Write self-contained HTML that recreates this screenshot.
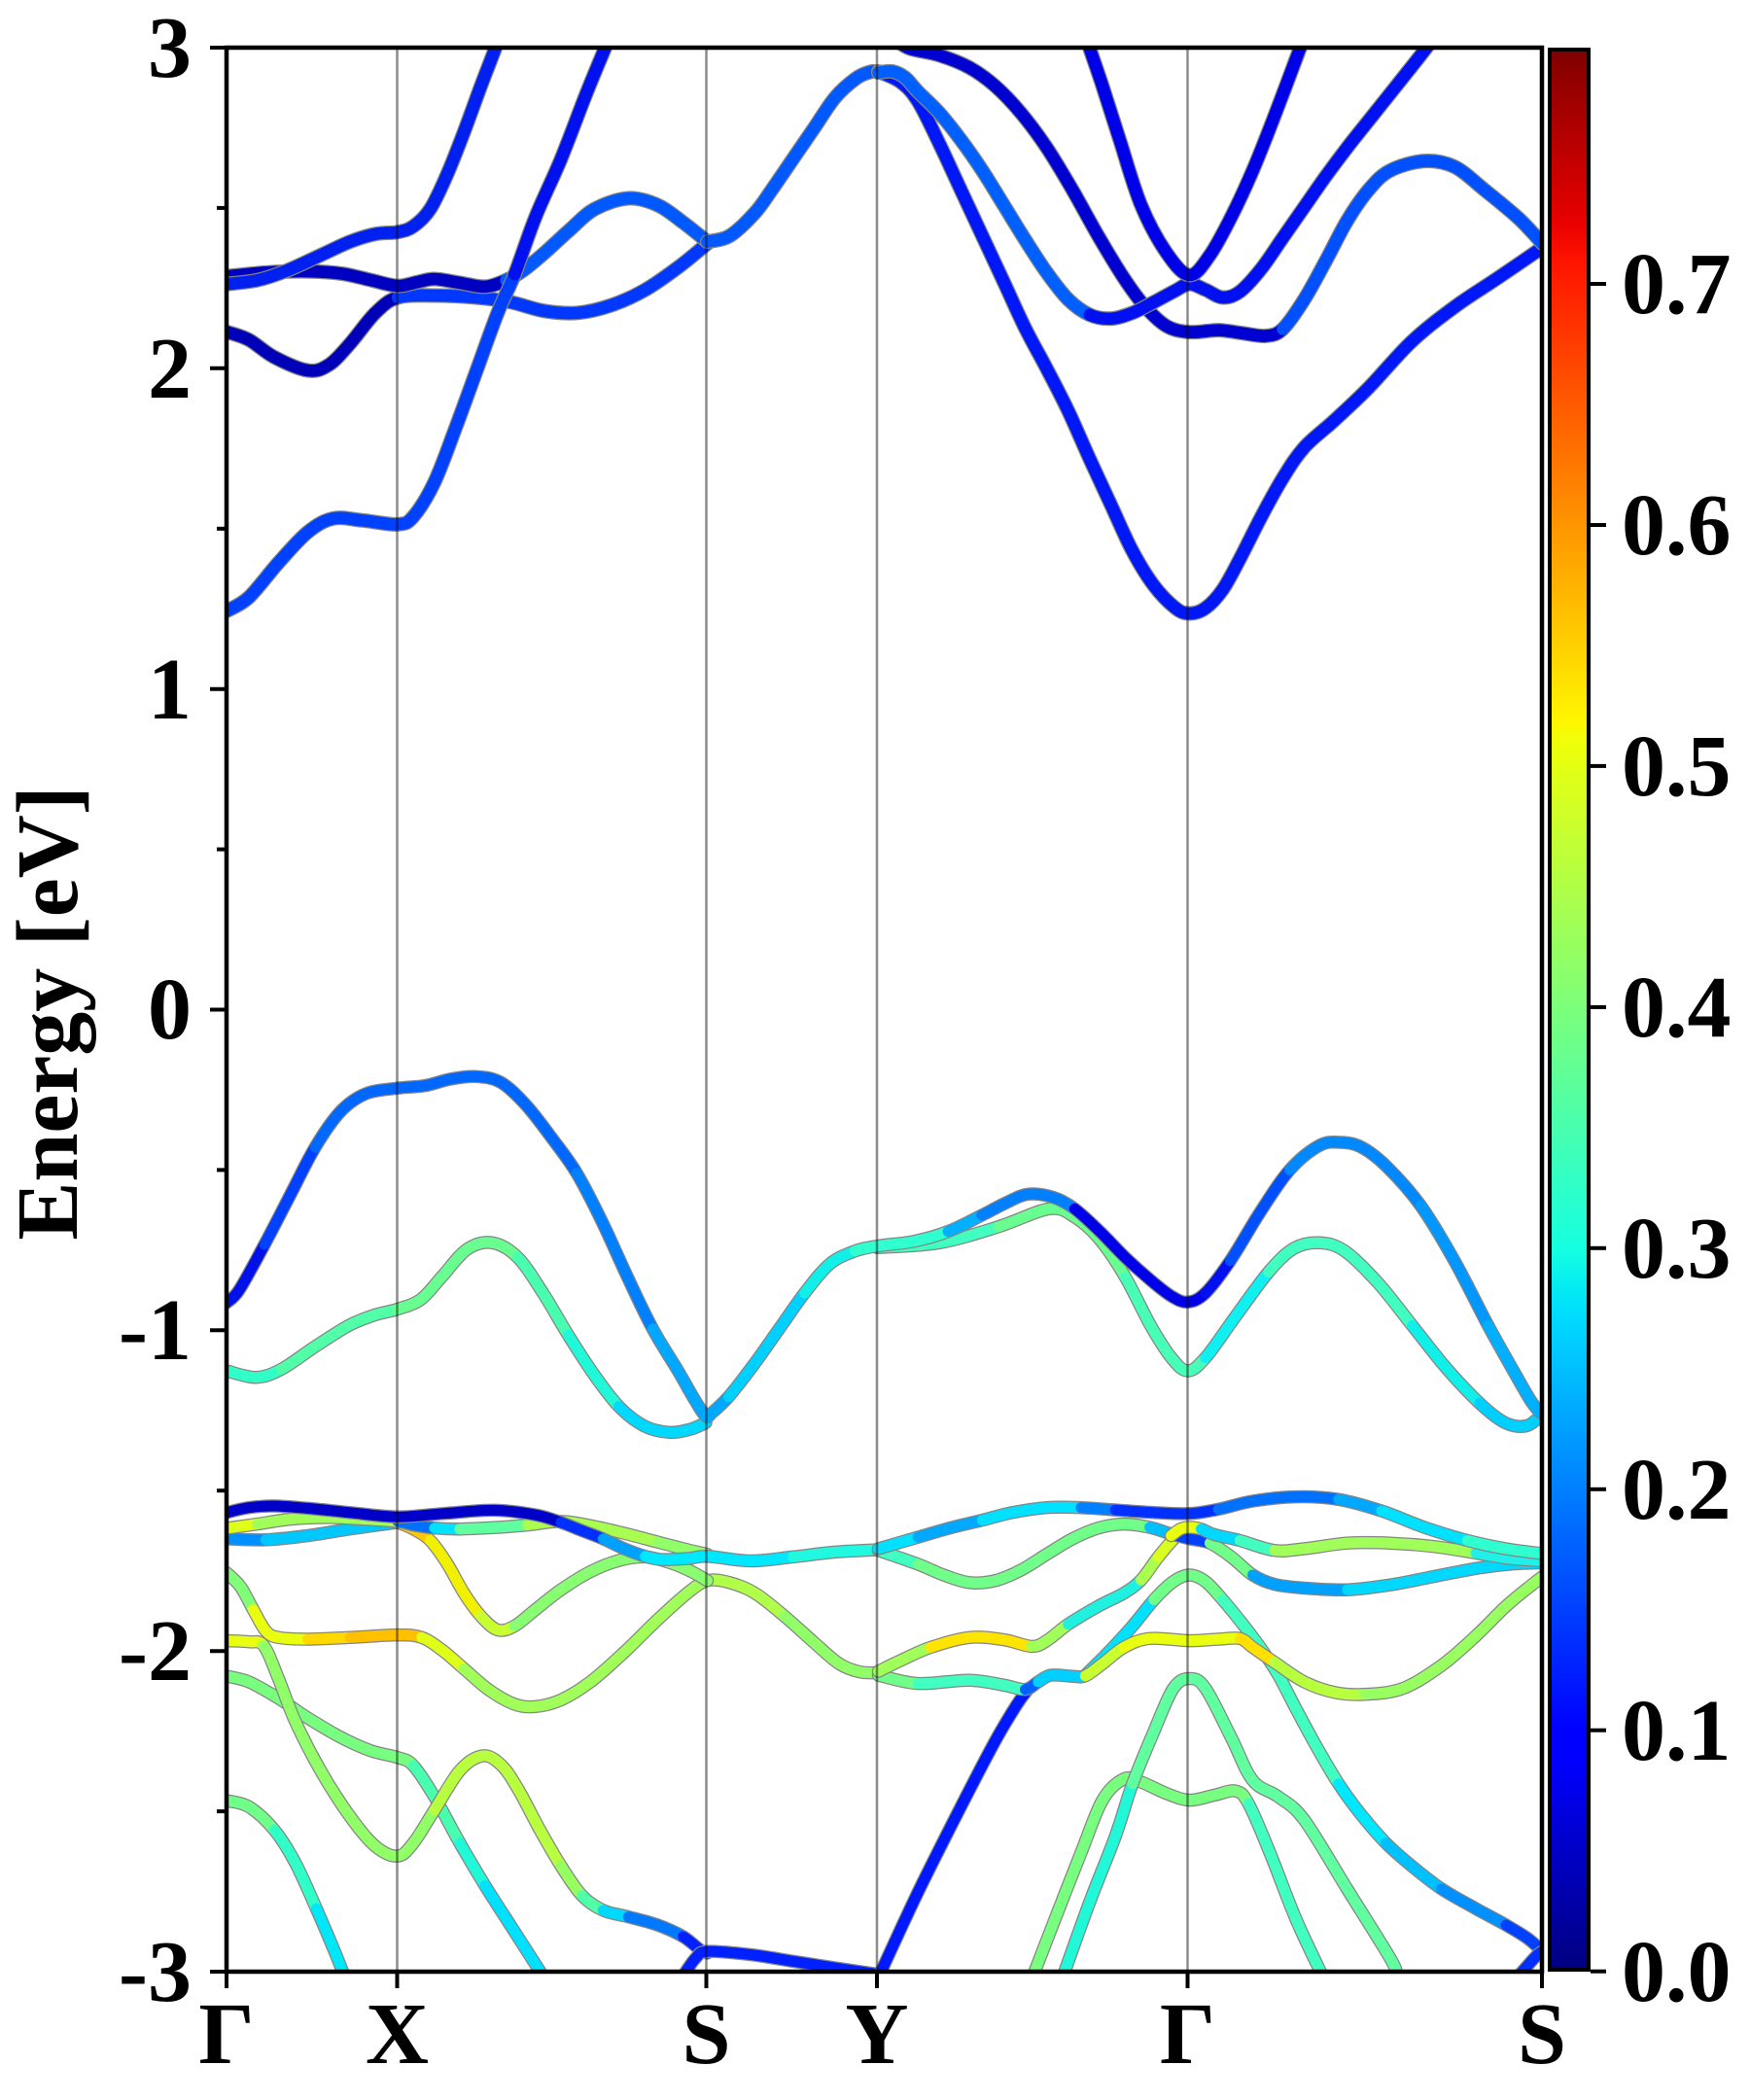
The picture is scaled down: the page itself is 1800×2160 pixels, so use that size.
<!DOCTYPE html>
<html><head><meta charset="utf-8"><style>
html,body{margin:0;padding:0;background:#fff;}
svg{display:block;}
.b polyline,.b path{fill:none;stroke-linejoin:round;stroke-linecap:round;stroke-width:11}
.b polyline.o,.b path.o{stroke:#858585;stroke-width:13.5}
.t polyline,.t path{stroke-width:12.5}
.t polyline.o,.t path.o{stroke-width:15}
.lbl{font-family:"Liberation Serif","DejaVu Serif",serif;font-weight:bold;font-size:90px;fill:#000}
</style></head><body>
<svg width="1800" height="2160" viewBox="0 0 1800 2160" xmlns="http://www.w3.org/2000/svg">
<defs>
<clipPath id="ax"><rect x="233" y="49" width="1353" height="1979"/></clipPath>
<linearGradient id="jet" x1="0" y1="1" x2="0" y2="0">
<stop offset="0" stop-color="#000080"/><stop offset="0.11" stop-color="#0000ff"/><stop offset="0.125" stop-color="#0000ff"/>
<stop offset="0.34" stop-color="#00dbff"/><stop offset="0.35" stop-color="#00e6f7"/><stop offset="0.375" stop-color="#14ffe2"/>
<stop offset="0.5" stop-color="#7bff7b"/><stop offset="0.64" stop-color="#efff08"/><stop offset="0.65" stop-color="#fff600"/>
<stop offset="0.66" stop-color="#ffec00"/><stop offset="0.89" stop-color="#ff1300"/><stop offset="0.91" stop-color="#e80000"/>
<stop offset="1" stop-color="#800000"/>
</linearGradient>
</defs>
<rect width="1800" height="2160" fill="#fff"/>

<g clip-path="url(#ax)">
<!-- TOP bands -->
<g class="b t">
<polyline class="o" points="234,341.6 256,349.5 282,367.3 316.7,381.1 338.4,375.2 360.1,353.4 386.1,321.8 409.1,306 446.9,304 490.2,306 524.9,310.7 559.6,319.8 594.3,321.8 629,313.9 663.7,298.1 698.4,274.3 727.5,250.6"/>
<polyline stroke="#0000b8" points="234,341.6 256,349.5 282,367.3 316.7,381.1 338.4,375.2 360.1,353.4 386.1,321.8 409.1,306"/>
<polyline stroke="#0038ff" points="409.1,306 446.9,304 490.2,306 524.9,310.7 559.6,319.8 594.3,321.8 629,313.9 663.7,298.1 698.4,274.3 727.5,250.6"/>

<polyline class="o" points="234,284.2 273.4,280.3 316.7,279.1 351.4,281.4 381.8,288.2 409.1,294.1 429.5,290.1 446.9,287 472.9,290.9 498.9,294.9 520.6,288.2 537.9,278.3 559.6,260.5 585.6,236.8 611.7,215 646.3,204 676.7,211.1 702.7,228.9 727.5,248.6"/>
<polyline stroke="#0000c0" points="234,284.2 273.4,280.3 316.7,279.1 351.4,281.4 381.8,288.2 409.1,294.1 429.5,290.1 446.9,287 472.9,290.9 498.9,294.9 520.6,288.2"/>
<polyline stroke="#0058ff" points="520.6,288.2 537.9,278.3 559.6,260.5 585.6,236.8 611.7,215 646.3,204 676.7,211.1 702.7,228.9 727.5,248.6"/>

<polyline class="o" points="234,292.1 264.7,288.2 295.1,278.3 329.8,262.5 360.1,248.6 386.1,240.7 409.1,238.7 425.2,232.8 442.5,215 459.9,179.4 477.2,135.9 494.6,88.5 509.7,49 514,35"/>
<polyline stroke="#0020f0" points="234,292.1 264.7,288.2 295.1,278.3 329.8,262.5 360.1,248.6 386.1,240.7 409.1,238.7 425.2,232.8 442.5,215 459.9,179.4 477.2,135.9 494.6,88.5 509.7,49 514,35"/>

<polyline class="o" points="234,628 256,614.4 286.4,578.8 316.7,547.2 342.8,533.3 373.1,535.3 409.1,539.3 425.2,531.3 446.9,495.8 468.5,440.4 490.2,381.1 511.9,321.8 529.3,282.2 550.9,222.9 577,163.6 603,96.4 622.5,49 628,35"/>
<polyline stroke="#0040ff" points="234,628 256,614.4 286.4,578.8 316.7,547.2 342.8,533.3 373.1,535.3 409.1,539.3 425.2,531.3 446.9,495.8 468.5,440.4 490.2,381.1 511.9,321.8 529.3,282.2"/>
<polyline stroke="#0010ee" points="529.3,282.2 550.9,222.9 577,163.6 603,96.4 622.5,49 628,35"/>

<polyline class="o" points="727.5,248.6 750.4,242.7 776.4,219 793.8,195.3 815.5,163.6 837.2,132 858.9,100.4 880.6,80.6 895,74 903.5,74"/>
<polyline stroke="#0058ff" points="727.5,248.6 750.4,242.7 776.4,219 793.8,195.3 815.5,163.6 837.2,132 858.9,100.4 880.6,80.6 895,74 903.5,74"/>

<polyline class="o" points="903.5,73.5 926.5,84.5 944.2,104.3 966.2,147.8 988.3,195.3 1010.4,242.7 1032.5,290.1 1054.5,337.6 1076.6,379.1 1098.7,422.6 1120.8,472 1142.8,519.5 1164.9,566.9 1187,602.5 1209.1,625.4 1223.6,631 1240,625.4 1257.6,606.5 1275.3,574.8 1297.4,531.3 1319.4,491.8 1341.5,460.2 1372.4,432.5 1407.7,398.9 1451.9,351.4 1496,315.8 1540.2,286.2 1586.5,254.6"/>
<polyline stroke="#0018f8" points="903.5,73.5 926.5,84.5 944.2,104.3 966.2,147.8 988.3,195.3 1010.4,242.7 1032.5,290.1 1054.5,337.6 1076.6,379.1 1098.7,422.6 1120.8,472 1142.8,519.5 1164.9,566.9 1187,602.5 1209.1,625.4 1223.6,631 1240,625.4 1257.6,606.5 1275.3,574.8 1297.4,531.3 1319.4,491.8 1341.5,460.2 1372.4,432.5 1407.7,398.9 1451.9,351.4 1496,315.8 1540.2,286.2 1586.5,254.6"/>

<polyline class="o" points="920,40 935.3,49.7 966.2,56.9 997.1,69.5 1023.6,88.5 1050.1,116.2 1076.6,151.8 1103.1,195.3 1129.6,242.7 1156.1,286.2 1178.1,315.8 1200.2,335.6 1223.6,341.6 1253.2,339.6 1275.3,342.3 1301.8,345.5 1319.4,338.4 1341.5,308 1363.6,268.4 1385.7,226.9 1407.7,195.3 1429.8,175.5 1465.1,165.6 1496,171.5 1526.9,195.3 1562.3,224.9 1586.5,250.6"/>
<polyline stroke="#0000d0" points="920,40 935.3,49.7 966.2,56.9 997.1,69.5 1023.6,88.5 1050.1,116.2 1076.6,151.8 1103.1,195.3 1129.6,242.7 1156.1,286.2 1178.1,315.8 1200.2,335.6 1223.6,341.6 1253.2,339.6 1275.3,342.3 1301.8,345.5 1319.4,338.4"/>
<polyline stroke="#0050ff" points="1319.4,338.4 1341.5,308 1363.6,268.4 1385.7,226.9 1407.7,195.3 1429.8,175.5 1465.1,165.6 1496,171.5 1526.9,195.3 1562.3,224.9 1586.5,250.6"/>

<polyline class="o" points="903.5,74.7 917.7,73.5 930.9,79.8 944.2,94.4 966.2,116.2 988.3,143.9 1010.4,175.5 1032.5,211.1 1054.5,246.7 1076.6,280.3 1098.7,308 1120.8,323.8 1142.8,327.7 1164.9,321.8 1187,310.7 1209.1,298.8 1223.6,292.1 1240,298.1 1257.6,306 1275.3,300 1297.4,276.3 1319.4,244.7 1341.5,213 1363.6,181.4 1385.7,151.8 1407.7,124.1 1429.8,96.4 1451.9,68.7 1467.3,49 1475,38"/>
<polyline stroke="#0060ff" points="903.5,74.7 917.7,73.5 930.9,79.8 944.2,94.4 966.2,116.2 988.3,143.9 1010.4,175.5 1032.5,211.1 1054.5,246.7 1076.6,280.3 1098.7,308 1120.8,323.8"/>
<polyline stroke="#0010f0" points="1120.8,323.8 1142.8,327.7 1164.9,321.8 1187,310.7 1209.1,298.8 1223.6,292.1 1240,298.1 1257.6,306 1275.3,300 1297.4,276.3 1319.4,244.7 1341.5,213 1363.6,181.4 1385.7,151.8 1407.7,124.1 1429.8,96.4 1451.9,68.7 1467.3,49 1475,38"/>

<polyline class="o" points="1118,40 1120.8,49.7 1134,88.5 1151.7,143.9 1173.7,211.1 1200.2,260.5 1223.6,283 1244.4,262.5 1266.5,222.9 1288.5,175.5 1310.6,120.1 1337.1,49.7 1341,38"/>
<polyline stroke="#0000e8" points="1118,40 1120.8,49.7 1134,88.5 1151.7,143.9 1173.7,211.1 1200.2,260.5 1223.6,283 1244.4,262.5 1266.5,222.9 1288.5,175.5 1310.6,120.1 1337.1,49.7 1341,38"/>
</g>

<!-- MIDDLE bands -->
<g class="b">
<polyline class="o" points="233,1410 263.4,1416.7 289.5,1408.3 324.2,1385 358.9,1363.3 384.9,1352.7 408.4,1346.7 432.7,1336.7 454.4,1313.3 480.4,1285 506.4,1278.3 532.5,1293.3 558.5,1330 584.5,1373.3 610.6,1413.3 636.6,1446.7 662.6,1466.7 688.7,1473.3 710.4,1470 726,1463.3"/>
<polyline stroke="#30ffc8" points="233,1410 263.4,1416.7 289.5,1408.3"/>
<polyline stroke="#50ffa8" points="289.5,1408.3 324.2,1385 358.9,1363.3 384.9,1352.7 408.4,1346.7"/>
<polyline stroke="#68ff90" points="408.4,1346.7 432.7,1336.7 454.4,1313.3 480.4,1285 506.4,1278.3 532.5,1293.3"/>
<polyline stroke="#48ffb0" points="532.5,1293.3 558.5,1330 584.5,1373.3"/>
<polyline stroke="#20f8d8" points="584.5,1373.3 610.6,1413.3 636.6,1446.7"/>
<polyline stroke="#00d8ff" points="636.6,1446.7 662.6,1466.7 688.7,1473.3 710.4,1470 726,1463.3"/>

<polyline class="o" points="902.2,1283.3 966.4,1278.3 1027.2,1261.7 1079.3,1243.3 1105.3,1251.7 1131.3,1275 1157.3,1313.3 1183.4,1363.3 1205,1396.7 1221.6,1410 1239.8,1396.7 1270.2,1355 1304.9,1308.3 1331,1284 1357,1278.3 1383,1286.7 1417.8,1320 1452.5,1363.3 1487.2,1406.7 1521.9,1443.3 1547.9,1463.3 1569.6,1466.7 1584.3,1456.7"/>
<polyline stroke="#40ffc0" points="902.2,1283.3 966.4,1278.3 1027.2,1261.7"/>
<polyline stroke="#68ff90" points="1027.2,1261.7 1079.3,1243.3 1105.3,1251.7 1131.3,1275 1157.3,1313.3"/>
<polyline stroke="#48ffb8" points="1157.3,1313.3 1183.4,1363.3 1205,1396.7 1221.6,1410 1239.8,1396.7"/>
<polyline stroke="#10f0f0" points="1239.8,1396.7 1270.2,1355 1304.9,1308.3"/>
<polyline stroke="#40ffc0" points="1304.9,1308.3 1331,1284 1357,1278.3 1383,1286.7 1417.8,1320 1452.5,1363.3"/>
<polyline stroke="#10f0e8" points="1452.5,1363.3 1487.2,1406.7 1521.9,1443.3"/>
<polyline stroke="#00d0ff" points="1521.9,1443.3 1547.9,1463.3 1569.6,1466.7 1584.3,1456.7"/>

<polyline class="o" points="233,1340 246.1,1326.7 272.1,1280 298.1,1230 324.2,1180 350.2,1143.3 376.2,1125 408.4,1119.3 437,1116.7 463,1110 489.1,1107.3 515.1,1113.3 541.1,1136.7 567.2,1170 593.2,1206.7 619.3,1256.7 645.3,1313.3 671.3,1366.7 697.4,1410 714.7,1440 726,1456.7 732.1,1453.3 749.4,1436.7 775.5,1403.3 801.5,1366.7 827.6,1330 853.6,1300 879.6,1286.7 902.2,1281.7 940.4,1276.7 975.1,1266.7 1009.8,1250 1035.8,1236.7 1057.5,1228.3 1083.6,1231.7 1105.3,1243.3 1131.3,1266.7 1157.3,1293.3 1183.4,1316.7 1205,1333.3 1221.6,1339.3 1239.8,1330 1265.5,1296.7 1296.2,1246.7 1326.6,1203.3 1357,1178.3 1378.6,1175 1400.4,1180 1426.4,1200 1461.2,1240 1495.9,1296.7 1530.6,1363.3 1556.7,1410 1574,1440 1584.3,1453.3"/>
<polyline stroke="#0010e8" points="233,1340 246.1,1326.7 272.1,1280"/>
<polyline stroke="#0040ff" points="272.1,1280 298.1,1230 324.2,1180"/>
<polyline stroke="#0068ff" points="324.2,1180 350.2,1143.3 376.2,1125 408.4,1119.3 437,1116.7 463,1110 489.1,1107.3 515.1,1113.3 541.1,1136.7 567.2,1170 593.2,1206.7"/>
<polyline stroke="#0080ff" points="593.2,1206.7 619.3,1256.7 645.3,1313.3 671.3,1366.7"/>
<polyline stroke="#00a8ff" points="671.3,1366.7 697.4,1410 714.7,1440 726,1456.7 732.1,1453.3 749.4,1436.7"/>
<polyline stroke="#00d0ff" points="749.4,1436.7 775.5,1403.3 801.5,1366.7 827.6,1330"/>
<polyline stroke="#10f0e8" points="827.6,1330 853.6,1300 879.6,1286.7"/>
<polyline stroke="#30ffd0" points="879.6,1286.7 902.2,1281.7 940.4,1276.7 975.1,1266.7"/>
<polyline stroke="#00b0ff" points="975.1,1266.7 1009.8,1250"/>
<polyline stroke="#0080ff" points="1009.8,1250 1035.8,1236.7 1057.5,1228.3 1083.6,1231.7 1105.3,1243.3"/>
<polyline stroke="#0000e8" points="1105.3,1243.3 1131.3,1266.7 1157.3,1293.3 1183.4,1316.7 1205,1333.3 1221.6,1339.3 1239.8,1330"/>
<polyline stroke="#0010f0" points="1239.8,1330 1265.5,1296.7"/>
<polyline stroke="#0050ff" points="1265.5,1296.7 1296.2,1246.7 1326.6,1203.3"/>
<polyline stroke="#0088ff" points="1326.6,1203.3 1357,1178.3 1378.6,1175 1400.4,1180 1426.4,1200 1461.2,1240"/>
<polyline stroke="#0098ff" points="1461.2,1240 1495.9,1296.7 1530.6,1363.3"/>
<polyline stroke="#00b0ff" points="1530.6,1363.3 1556.7,1410 1574,1440 1584.3,1453.3"/>
</g>

<!-- LOWER bands -->
<g class="b">
<polyline class="o" points="233,1852 256,1858.4 282,1882.1 303.7,1915.9 325.4,1963.2 342.8,2003.8 353.6,2030.8"/>
<polyline stroke="#70ff88" points="233,1852 256,1858.4 282,1882.1"/>
<polyline stroke="#30ffc8" points="282,1882.1 303.7,1915.9 325.4,1963.2"/>
<polyline stroke="#00e8f8" points="325.4,1963.2 342.8,2003.8 353.6,2030.8"/>

<polyline class="o" points="233,1724 256,1729.9 286.4,1746.8 316.7,1767.1 351.4,1787.4 381.8,1800.9 409.1,1807.7 425.2,1816.1 446.9,1848.2 472.9,1895.6 498.9,1939.5 524.9,1980.1 546.6,2013.9 557.4,2030.8"/>
<polyline stroke="#78ff80" points="233,1724 256,1729.9 286.4,1746.8 316.7,1767.1 351.4,1787.4 381.8,1800.9 409.1,1807.7 425.2,1816.1"/>
<polyline stroke="#48ffb0" points="425.2,1816.1 446.9,1848.2 472.9,1895.6"/>
<polyline stroke="#20f8d8" points="472.9,1895.6 498.9,1939.5"/>
<polyline stroke="#00e0ff" points="498.9,1939.5 524.9,1980.1 546.6,2013.9 557.4,2030.8"/>

<polyline class="o" points="233,1687.6 256,1688.7 271.2,1692.7 286.4,1726.5 303.7,1770.5 329.8,1821.2 360.1,1868.5 386.1,1899 409.1,1909.1 425.2,1895.6 446.9,1861.8 472.9,1821.2 496.7,1806 516.2,1816.1 533.6,1841.5 555.3,1882.1 577,1919.2 598.6,1949.7 620.3,1964.9 646.3,1971.6 676.7,1980.1 702.7,1992 720.1,2005.5 727.5,2008.9"/>
<polyline stroke="#e8ff10" points="233,1687.6 256,1688.7 271.2,1692.7"/>
<polyline stroke="#90ff68" points="271.2,1692.7 286.4,1726.5 303.7,1770.5 329.8,1821.2 360.1,1868.5 386.1,1899 409.1,1909.1 425.2,1895.6 446.9,1861.8"/>
<polyline stroke="#b8ff40" points="446.9,1861.8 472.9,1821.2 496.7,1806 516.2,1816.1 533.6,1841.5 555.3,1882.1 577,1919.2"/>
<polyline stroke="#98ff60" points="577,1919.2 598.6,1949.7"/>
<polyline stroke="#50ffa8" points="598.6,1949.7 620.3,1964.9"/>
<polyline stroke="#00d8ff" points="620.3,1964.9 646.3,1971.6"/>
<polyline stroke="#0078ff" points="646.3,1971.6 676.7,1980.1 702.7,1992"/>
<polyline stroke="#0020ff" points="702.7,1992 720.1,2005.5 727.5,2008.9"/>

<polyline class="o" points="233,1617.6 247.3,1631.9 260.4,1655.5 273.4,1677.5 286.4,1684.3 316.7,1686 360.1,1684.3 409.1,1681.6 433.8,1684.3 455.5,1697.8 477.2,1716.4 503.2,1738.4 529.3,1752.9 550.9,1755.3 577,1748.5 607.3,1729.9 642,1699.5 676.7,1665.7 707.1,1638.6 727.5,1625.8 750.4,1627.8 776.4,1638.6 806.8,1662.3 837.2,1689.3 863.2,1711.3 884.9,1719.8 904.4,1720.4"/>
<polyline stroke="#80ff78" points="233,1617.6 247.3,1631.9 260.4,1655.5"/>
<polyline stroke="#e8ff10" points="260.4,1655.5 273.4,1677.5 286.4,1684.3 316.7,1686"/>
<polyline stroke="#ffd800" points="316.7,1686 360.1,1684.3"/>
<polyline stroke="#ffc000" points="360.1,1684.3 409.1,1681.6 433.8,1684.3"/>
<polyline stroke="#e0ff18" points="433.8,1684.3 455.5,1697.8 477.2,1716.4"/>
<polyline stroke="#a0ff58" points="477.2,1716.4 503.2,1738.4 529.3,1752.9 550.9,1755.3 577,1748.5 607.3,1729.9 642,1699.5 676.7,1665.7 707.1,1638.6 727.5,1625.8"/>
<polyline stroke="#b0ff48" points="727.5,1625.8 750.4,1627.8 776.4,1638.6 806.8,1662.3"/>
<polyline stroke="#90ff68" points="806.8,1662.3 837.2,1689.3 863.2,1711.3 884.9,1719.8 904.4,1720.4"/>

<polyline class="o" points="409.1,1565.9 425.2,1572.7 442.5,1584.5 459.9,1608.2 477.2,1638.6 494.6,1662.3 511.9,1676.5 529.3,1672.4 550.9,1655.5 577,1635.2 607.3,1616.6 637.7,1604.8 663.7,1601.4 689.7,1607.5 711.4,1616.6 727.5,1625.8"/>
<polyline stroke="#ffc800" points="409.1,1565.9 425.2,1572.7 442.5,1584.5"/>
<polyline stroke="#f0f000" points="442.5,1584.5 459.9,1608.2 477.2,1638.6 494.6,1662.3"/>
<polyline stroke="#c8ff30" points="494.6,1662.3 511.9,1676.5 529.3,1672.4"/>
<polyline stroke="#88ff70" points="529.3,1672.4 550.9,1655.5 577,1635.2 607.3,1616.6 637.7,1604.8 663.7,1601.4 689.7,1607.5 711.4,1616.6 727.5,1625.8"/>

<polyline class="o" points="233,1582.8 273.4,1583.8 316.7,1579.5 360.1,1572.7 409.1,1565.9"/>
<polyline stroke="#0090ff" points="233,1582.8 273.4,1583.8"/>
<polyline stroke="#00c8ff" points="273.4,1583.8 316.7,1579.5 360.1,1572.7 409.1,1565.9"/>

<polyline class="o" points="233,1572 264.7,1567.6 299.4,1562.5 338.4,1560.9 373.1,1562.5 409.1,1564.9 425.2,1568.6 446.9,1571.7 472.9,1572.7 511.9,1571 542.3,1568.6 577,1564.9 607.3,1569.3 642,1577.1 676.7,1586.2 707.1,1594 727.5,1598.7"/>
<polyline stroke="#e0ff18" points="233,1572 264.7,1567.6"/>
<polyline stroke="#a0ff58" points="264.7,1567.6 299.4,1562.5 338.4,1560.9 373.1,1562.5 409.1,1564.9"/>
<polyline stroke="#0070ff" points="409.1,1564.9 425.2,1568.6 446.9,1571.7"/>
<polyline stroke="#00e0ff" points="446.9,1571.7 472.9,1572.7"/>
<polyline stroke="#60ffa0" points="472.9,1572.7 511.9,1571 542.3,1568.6"/>
<polyline stroke="#a8ff50" points="542.3,1568.6 577,1564.9 607.3,1569.3 642,1577.1 676.7,1586.2"/>
<polyline stroke="#90ff68" points="676.7,1586.2 707.1,1594 727.5,1598.7"/>

<polyline class="o" points="233,1555.8 256,1550.7 282,1549 316.7,1551.4 360.1,1555.8 409.1,1560.2 455.5,1556.8 507.6,1553.4 550.9,1558.2 577,1565.9 598.6,1574.4 620.3,1582.8 642,1593 663.7,1600.8 681,1604.1 707.1,1603.1 727.5,1600.8 772.1,1605.5 815.5,1601.4 858.9,1596.4 904.4,1594"/>
<polyline stroke="#0000c8" points="233,1555.8 256,1550.7 282,1549 316.7,1551.4 360.1,1555.8 409.1,1560.2 455.5,1556.8 507.6,1553.4 550.9,1558.2 577,1565.9"/>
<polyline stroke="#0030ff" points="577,1565.9 598.6,1574.4 620.3,1582.8"/>
<polyline stroke="#00a0ff" points="620.3,1582.8 642,1593 663.7,1600.8"/>
<polyline stroke="#00e8ff" points="663.7,1600.8 681,1604.1 707.1,1603.1 727.5,1600.8 772.1,1605.5 815.5,1601.4"/>
<polyline stroke="#20f8e0" points="815.5,1601.4 858.9,1596.4 904.4,1594"/>

<polyline class="o" points="702.7,2032 715.7,2013.9 727.5,2007.2 772.1,2010.5 815.5,2017.3 858.9,2024.1 904.4,2030.8"/>
<polyline stroke="#0020ff" points="702.7,2032 715.7,2013.9 727.5,2007.2 772.1,2010.5 815.5,2017.3 858.9,2024.1 904.4,2030.8"/>

<polyline class="o" points="904.4,2032 944.2,1946.3 988.3,1858.4 1023.6,1790.8 1045.7,1753.6 1056.7,1738.4"/>
<polyline stroke="#0018ff" points="904.4,2032 944.2,1946.3 988.3,1858.4 1023.6,1790.8 1045.7,1753.6 1056.7,1738.4"/>

<polyline class="o" points="1063.4,2030.1 1085.4,1973.3 1111.9,1905.7 1134,1851.6 1156.1,1829.6 1173.7,1833 1200.2,1844.9 1223.6,1851.6 1248.8,1846.5 1270.9,1842.2 1284.1,1855 1306.2,1905.7 1332.7,1973.3 1359.2,2030.1"/>
<polyline stroke="#78ff80" points="1063.4,2030.1 1085.4,1973.3 1111.9,1905.7 1134,1851.6 1156.1,1829.6 1173.7,1833 1200.2,1844.9 1223.6,1851.6 1248.8,1846.5 1270.9,1842.2 1284.1,1855"/>
<polyline stroke="#40ffc0" points="1284.1,1855 1306.2,1905.7 1332.7,1973.3 1359.2,2030.1"/>

<polyline class="o" points="1094.3,2030.1 1120.8,1956.4 1147.2,1888.8 1164.9,1834.7 1187,1780.6 1206.8,1736.7 1223.6,1726.5 1240,1736.7 1266.5,1787.4 1288.5,1831.3 1315,1848.2 1341.5,1871.9 1385.7,1943 1429.8,2014 1436.4,2030.1"/>
<polyline stroke="#20f8d8" points="1094.3,2030.1 1120.8,1956.4 1147.2,1888.8 1164.9,1834.7"/>
<polyline stroke="#60ffa0" points="1164.9,1834.7 1187,1780.6 1206.8,1736.7 1223.6,1726.5 1240,1736.7 1266.5,1787.4 1288.5,1831.3 1315,1848.2 1341.5,1871.9 1385.7,1943 1429.8,2014 1436.4,2030.1"/>

<polyline class="o" points="1116.3,1723.1 1138.4,1701.2 1164.9,1672.4 1187,1645.4 1206.8,1626.8 1223.6,1620 1240,1626.8 1257.6,1645.4 1279.7,1672.4 1297.4,1696.1 1315,1723.1 1332.7,1757 1354.7,1797.5 1376.8,1834.7 1398.9,1865.1 1425.4,1895.6 1451.9,1919.2 1482.8,1942.9 1518.1,1963.2 1549,1980 1571.1,1993.6 1586.5,2007.2"/>
<polyline stroke="#00e0ff" points="1116.3,1723.1 1138.4,1701.2 1164.9,1672.4 1187,1645.4"/>
<polyline stroke="#70ff88" points="1187,1645.4 1206.8,1626.8 1223.6,1620 1240,1626.8 1257.6,1645.4"/>
<polyline stroke="#40ffc0" points="1257.6,1645.4 1279.7,1672.4 1297.4,1696.1 1315,1723.1 1332.7,1757 1354.7,1797.5 1376.8,1834.7"/>
<polyline stroke="#00e8ff" points="1376.8,1834.7 1398.9,1865.1 1425.4,1895.6"/>
<polyline stroke="#00c0ff" points="1425.4,1895.6 1451.9,1919.2 1482.8,1942.9"/>
<polyline stroke="#0090ff" points="1482.8,1942.9 1518.1,1963.2 1549,1980"/>
<polyline stroke="#0040ff" points="1549,1980 1571.1,1993.6 1586.5,2007.2"/>

<polyline class="o" points="903.5,1723.1 944.2,1731.6 997.1,1728.2 1032.5,1733.3 1054.5,1737.7 1067.8,1729.9 1081,1723.1 1103.1,1724.2 1116.3,1723.8 1134,1711.3 1156.1,1694.4 1182.6,1685.3 1223.6,1687.6 1253.2,1686 1275.3,1685.3 1288.5,1694.4 1310.6,1709.6 1341.5,1729.9 1372.4,1740.7 1403.3,1742.8 1443,1736.7 1482.8,1713 1518.1,1682.6 1549,1652.1 1575.5,1630.2 1586.5,1621.7"/>
<polyline stroke="#70ff88" points="903.5,1723.1 944.2,1731.6"/>
<polyline stroke="#40ffc0" points="944.2,1731.6 997.1,1728.2 1032.5,1733.3 1054.5,1737.7"/>
<polyline stroke="#0060ff" points="1054.5,1737.7 1067.8,1729.9"/>
<polyline stroke="#00d0ff" points="1067.8,1729.9 1081,1723.1 1103.1,1724.2 1116.3,1723.8"/>
<polyline stroke="#c8ff30" points="1116.3,1723.8 1134,1711.3 1156.1,1694.4"/>
<polyline stroke="#e8ff10" points="1156.1,1694.4 1182.6,1685.3 1223.6,1687.6 1253.2,1686 1275.3,1685.3"/>
<polyline stroke="#ffe000" points="1275.3,1685.3 1288.5,1694.4 1310.6,1709.6"/>
<polyline stroke="#b8ff40" points="1310.6,1709.6 1341.5,1729.9 1372.4,1740.7 1403.3,1742.8"/>
<polyline stroke="#98ff60" points="1403.3,1742.8 1443,1736.7 1482.8,1713 1518.1,1682.6 1549,1652.1 1575.5,1630.2 1586.5,1621.7"/>

<polyline class="o" points="903.5,1719.1 926.5,1707.9 957.4,1694.4 997.1,1684.3 1032.5,1686.6 1061.1,1693.4 1076.6,1687.6 1098.7,1670.7 1129.6,1652.1 1156.1,1638.6 1173.7,1625.1 1191.4,1601.4 1209.1,1581.1 1223.6,1571.7"/>
<polyline stroke="#a0ff58" points="903.5,1719.1 926.5,1707.9 957.4,1694.4"/>
<polyline stroke="#ffe400" points="957.4,1694.4 997.1,1684.3 1032.5,1686.6 1061.1,1693.4"/>
<polyline stroke="#a0ff58" points="1061.1,1693.4 1076.6,1687.6 1098.7,1670.7"/>
<polyline stroke="#20f0e0" points="1098.7,1670.7 1129.6,1652.1 1156.1,1638.6 1173.7,1625.1"/>
<polyline stroke="#a8ff50" points="1173.7,1625.1 1191.4,1601.4"/>
<polyline stroke="#d8ff20" points="1191.4,1601.4 1209.1,1581.1 1223.6,1571.7"/>

<polyline class="o" points="903.5,1594.7 944.2,1608.9 970.6,1620 997.1,1627.8 1023.6,1625.8 1050.1,1615 1076.6,1598.7 1103.1,1582.8 1129.6,1571.7 1156.1,1567.6 1182.6,1571 1204.6,1577.8 1223.6,1582.8 1244.4,1587.2 1266.4,1601.4 1288.5,1620 1310.6,1629.5 1341.5,1633.5 1385.7,1635.2 1429.8,1630.2 1474,1621.7 1518.1,1613.3 1553.4,1608.9 1586.5,1607.5"/>
<polyline stroke="#40ffc0" points="903.5,1594.7 944.2,1608.9"/>
<polyline stroke="#70ff88" points="944.2,1608.9 970.6,1620 997.1,1627.8 1023.6,1625.8 1050.1,1615 1076.6,1598.7 1103.1,1582.8 1129.6,1571.7 1156.1,1567.6 1182.6,1571"/>
<polyline stroke="#00c0ff" points="1182.6,1571 1204.6,1577.8"/>
<polyline stroke="#0040ff" points="1204.6,1577.8 1223.6,1582.8 1244.4,1587.2"/>
<polyline stroke="#70ff88" points="1244.4,1587.2 1266.4,1601.4 1288.5,1620"/>
<polyline stroke="#00a0ff" points="1288.5,1620 1310.6,1629.5 1341.5,1633.5 1385.7,1635.2"/>
<polyline stroke="#00d8ff" points="1385.7,1635.2 1429.8,1630.2 1474,1621.7 1518.1,1613.3 1553.4,1608.9 1586.5,1607.5"/>

<polyline class="o" points="1204.6,1579.5 1214.3,1572.7 1223.6,1571 1235.5,1572.7 1248.8,1578.4 1275.3,1584.5 1310.6,1594.7 1341.5,1593 1385.7,1587.2 1429.8,1587.2 1474,1590.6 1518.1,1597.4 1553.4,1603.1 1586.5,1605.5"/>
<polyline stroke="#e8ff10" points="1204.6,1579.5 1214.3,1572.7 1223.6,1571 1235.5,1572.7"/>
<polyline stroke="#00d8ff" points="1235.5,1572.7 1248.8,1578.4 1275.3,1584.5"/>
<polyline stroke="#40ffc0" points="1275.3,1584.5 1310.6,1594.7"/>
<polyline stroke="#a0ff58" points="1310.6,1594.7 1341.5,1593 1385.7,1587.2 1429.8,1587.2 1474,1590.6 1518.1,1597.4"/>
<polyline stroke="#20f0e8" points="1518.1,1597.4 1553.4,1603.1 1586.5,1605.5"/>

<polyline class="o" points="903.5,1593 944.2,1581.1 979.5,1571 1010.4,1563.6 1041.3,1555.8 1076.6,1550.7 1111.9,1550.7 1147.2,1553.1 1187,1555.8 1223.6,1556.8 1253.2,1552.4 1288.5,1544 1332.7,1539.6 1376.8,1542.3 1421,1554.1 1465.1,1571 1509.3,1584.5 1549,1593 1586.5,1598"/>
<polyline stroke="#00e0ff" points="903.5,1593 944.2,1581.1"/>
<polyline stroke="#00a8ff" points="944.2,1581.1 979.5,1571 1010.4,1563.6"/>
<polyline stroke="#00e0ff" points="1010.4,1563.6 1041.3,1555.8 1076.6,1550.7 1111.9,1550.7"/>
<polyline stroke="#0080ff" points="1111.9,1550.7 1147.2,1553.1"/>
<polyline stroke="#0030ff" points="1147.2,1553.1 1187,1555.8 1223.6,1556.8 1253.2,1552.4"/>
<polyline stroke="#0070ff" points="1253.2,1552.4 1288.5,1544 1332.7,1539.6 1376.8,1542.3"/>
<polyline stroke="#00a8ff" points="1376.8,1542.3 1421,1554.1"/>
<polyline stroke="#00e0ff" points="1421,1554.1 1465.1,1571 1509.3,1584.5"/>
<polyline stroke="#30ffd0" points="1509.3,1584.5 1549,1593 1586.5,1598"/>

<polyline class="o" points="1562.3,2032 1579.9,2012.2 1586.5,2007.2"/>
<polyline stroke="#0030ff" points="1562.3,2032 1579.9,2012.2 1586.5,2007.2"/>
</g>
</g>

<!-- k-point vertical lines -->
<g stroke="rgba(0,0,0,0.45)" stroke-width="2.5">
<line x1="408.5" y1="49" x2="408.5" y2="2028"/>
<line x1="726.5" y1="49" x2="726.5" y2="2028"/>
<line x1="902" y1="49" x2="902" y2="2028"/>
<line x1="1221.5" y1="49" x2="1221.5" y2="2028"/>
</g>

<!-- axes frame -->
<rect x="233" y="49" width="1353" height="1979" fill="none" stroke="#000" stroke-width="4.5"/>

<!-- ticks -->
<g stroke="#000" stroke-width="4">
<line x1="216" y1="49" x2="233" y2="49"/>
<line x1="216" y1="378.8" x2="233" y2="378.8"/>
<line x1="216" y1="708.7" x2="233" y2="708.7"/>
<line x1="216" y1="1038.5" x2="233" y2="1038.5"/>
<line x1="216" y1="1368.3" x2="233" y2="1368.3"/>
<line x1="216" y1="1698.2" x2="233" y2="1698.2"/>
<line x1="216" y1="2028" x2="233" y2="2028"/>
<line x1="223" y1="213.9" x2="233" y2="213.9"/>
<line x1="223" y1="543.8" x2="233" y2="543.8"/>
<line x1="223" y1="873.6" x2="233" y2="873.6"/>
<line x1="223" y1="1203.4" x2="233" y2="1203.4"/>
<line x1="223" y1="1533.2" x2="233" y2="1533.2"/>
<line x1="223" y1="1863.1" x2="233" y2="1863.1"/>
<line x1="233" y1="2028" x2="233" y2="2045"/>
<line x1="408.5" y1="2028" x2="408.5" y2="2045"/>
<line x1="726.5" y1="2028" x2="726.5" y2="2045"/>
<line x1="902" y1="2028" x2="902" y2="2045"/>
<line x1="1221.5" y1="2028" x2="1221.5" y2="2045"/>
<line x1="1586" y1="2028" x2="1586" y2="2045"/>
<line x1="1636" y1="2027.7" x2="1652" y2="2027.7"/>
<line x1="1636" y1="1779.7" x2="1652" y2="1779.7"/>
<line x1="1636" y1="1531.8" x2="1652" y2="1531.8"/>
<line x1="1636" y1="1283.8" x2="1652" y2="1283.8"/>
<line x1="1636" y1="1035.9" x2="1652" y2="1035.9"/>
<line x1="1636" y1="787.9" x2="1652" y2="787.9"/>
<line x1="1636" y1="540" x2="1652" y2="540"/>
<line x1="1636" y1="292" x2="1652" y2="292"/>
</g>

<!-- colorbar -->
<rect x="1594" y="51" width="40" height="1975" fill="url(#jet)" stroke="#000" stroke-width="4"/>

<g class="lbl" text-anchor="end">
<text x="197" y="79">3</text>
<text x="197" y="409">2</text>
<text x="197" y="739">1</text>
<text x="197" y="1068">0</text>
<text x="197" y="1398">-1</text>
<text x="197" y="1728">-2</text>
<text x="197" y="2058">-3</text>
</g>

<g class="lbl" text-anchor="middle">
<text x="233" y="2122">Γ</text>
<text x="408.5" y="2122">X</text>
<text x="726.5" y="2122">S</text>
<text x="902" y="2122">Y</text>
<text x="1221.5" y="2122">Γ</text>
<text x="1586" y="2122">S</text>
</g>

<g class="lbl">
<text x="1668" y="2058">0.0</text>
<text x="1668" y="1810">0.1</text>
<text x="1668" y="1562">0.2</text>
<text x="1668" y="1314">0.3</text>
<text x="1668" y="1066">0.4</text>
<text x="1668" y="818">0.5</text>
<text x="1668" y="570">0.6</text>
<text x="1668" y="322">0.7</text>
</g>

<text class="lbl" text-anchor="middle" transform="translate(79,1042) rotate(-90)">Energy [eV]</text>
</svg>
<script>
(function(){
  try{
    var NS='http://www.w3.org/2000/svg';
    function parse(el){
      return el.getAttribute('points').trim().split(/\s+/).map(function(p){var a=p.split(',');return [parseFloat(a[0]),parseFloat(a[1])];});
    }
    function eq(a,b){return Math.abs(a[0]-b[0])<0.01&&Math.abs(a[1]-b[1])<0.01;}
    var ref=null;
    var list=Array.prototype.slice.call(document.querySelectorAll('g.b polyline'));
    list.forEach(function(pl){
      var pts=parse(pl);
      if(pts.length<2)return;
      var full=pts,off=0;
      if(pl.getAttribute('class')==='o'){ref=pts;}
      else if(ref){
        var k=-1;
        for(var j=0;j<ref.length;j++){if(eq(ref[j],pts[0])){k=j;break;}}
        if(k>=0&&k+pts.length<=ref.length){
          var ok=true;
          for(var i=0;i<pts.length;i++){if(!eq(ref[k+i],pts[i])){ok=false;break;}}
          if(ok){full=ref;off=k;}
        }
      }
      var d='M'+pts[0][0]+','+pts[0][1];
      for(var i=0;i<pts.length-1;i++){
        var g=off+i;
        var p1=full[g],p2=full[g+1];
        var p0=full[g-1]||p1,p3=full[g+2]||p2;
        var c1=[p1[0]+(p2[0]-p0[0])/6,p1[1]+(p2[1]-p0[1])/6];
        var c2=[p2[0]-(p3[0]-p1[0])/6,p2[1]-(p3[1]-p1[1])/6];
        d+=' C'+c1[0].toFixed(2)+','+c1[1].toFixed(2)+' '+c2[0].toFixed(2)+','+c2[1].toFixed(2)+' '+p2[0]+','+p2[1];
      }
      var path=document.createElementNS(NS,'path');
      if(pl.getAttribute('class'))path.setAttribute('class',pl.getAttribute('class'));
      if(pl.getAttribute('stroke'))path.setAttribute('stroke',pl.getAttribute('stroke'));
      path.setAttribute('d',d);
      pl.parentNode.replaceChild(path,pl);
    });
  }catch(e){}
})();
</script>
</body></html>
